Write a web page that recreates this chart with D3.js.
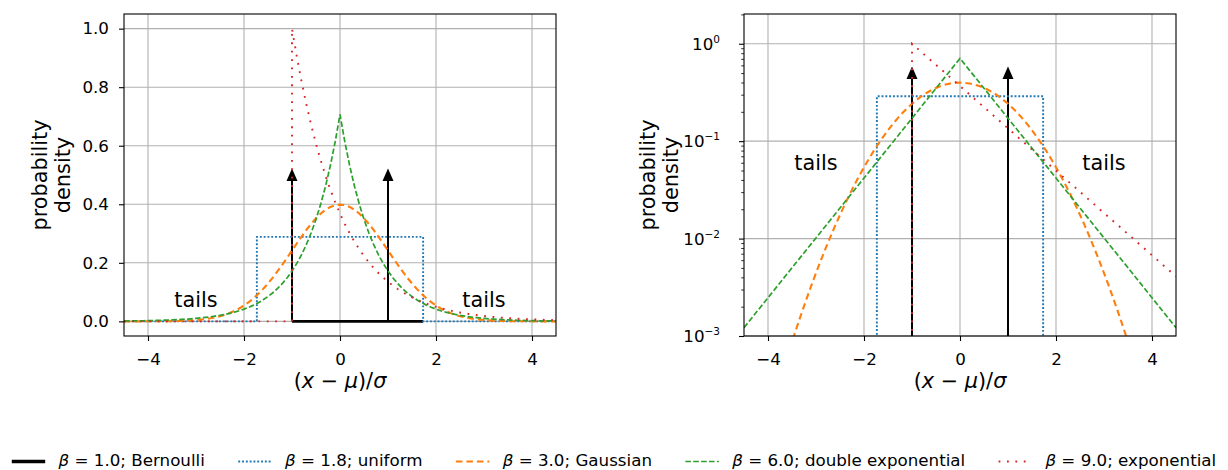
<!DOCTYPE html>
<html>
<head>
<meta charset="utf-8">
<script src="https://cdn.jsdelivr.net/npm/d3@7"></script>
<style>
body { margin: 0; background: #fff; }
text { font-family: "DejaVu Sans", sans-serif; fill: #000; }
</style>
</head>
<body>
<script>

// values //
const xGrid = [-4.5,-4.4,-4.3,-4.2,-4.1,-4.0,-3.9,-3.8,-3.7,-3.6,-3.5,-3.4,-3.3,-3.2,-3.1,
  -3.0,-2.9,-2.8,-2.7,-2.6,-2.5,-2.4,-2.3,-2.2,-2.1,-2.0,-1.9,-1.8,-1.7,-1.6,-1.5,-1.4,-1.3,
  -1.2,-1.1,-1.0,-0.9,-0.8,-0.7,-0.6,-0.5,-0.4,-0.3,-0.2,-0.1,0,0.1,0.2,0.3,0.4,0.5,0.6,0.7,
  0.8,0.9,1.0,1.1,1.2,1.3,1.4,1.5,1.6,1.7,1.8,1.9,2.0,2.1,2.2,2.3,2.4,2.5,2.6,2.7,2.8,2.9,
  3.0,3.1,3.2,3.3,3.4,3.5,3.6,3.7,3.8,3.9,4.0,4.1,4.2,4.3,4.4,4.5];

const gaussY = [0.000016,0.0000249,0.0000385,0.0000589,0.0000893,0.000134,0.000199,0.000292,
  0.000425,0.000612,0.000873,0.00123,0.00172,0.00238,0.00327,0.00443,0.00595,0.00792,0.0104,
  0.0136,0.0175,0.0224,0.0283,0.0355,0.0440,0.0540,0.0656,0.0790,0.0940,0.1109,0.1295,0.1497,
  0.1714,0.1942,0.2179,0.2420,0.2661,0.2897,0.3123,0.3332,0.3521,0.3683,0.3814,0.3910,0.3970,
  0.3989,
  0.3970,0.3910,0.3814,0.3683,0.3521,0.3332,0.3123,0.2897,0.2661,0.2420,0.2179,0.1942,0.1714,
  0.1497,0.1295,0.1109,0.0940,0.0790,0.0656,0.0540,0.0440,0.0355,0.0283,0.0224,0.0175,0.0136,
  0.0104,0.00792,0.00595,0.00443,0.00327,0.00238,0.00172,0.00123,0.000873,0.000612,0.000425,
  0.000292,0.000199,0.000134,0.0000893,0.0000589,0.0000385,0.0000249,0.000016];

const laplaceY = [0.001218,0.001403,0.001616,0.001861,0.002144,0.002470,0.002846,0.003278,
  0.003776,0.004349,0.005010,0.005771,0.006648,0.007658,0.008821,0.01016,0.01170,0.01348,
  0.01553,0.01789,0.02061,0.02374,0.02734,0.03150,0.03628,0.04179,0.04814,0.05546,0.06388,
  0.07358,0.08476,0.09764,0.11247,0.12956,0.14924,0.17191,0.19803,0.22811,0.26276,0.30267,
  0.34865,0.40161,0.46262,0.53290,0.61385,
  0.70711,
  0.61385,0.53290,0.46262,0.40161,0.34865,0.30267,0.26276,0.22811,0.19803,0.17191,0.14924,
  0.12956,0.11247,0.09764,0.08476,0.07358,0.06388,0.05546,0.04814,0.04179,0.03628,0.03150,
  0.02734,0.02374,0.02061,0.01789,0.01553,0.01348,0.01170,0.01016,0.008821,0.007658,0.006648,
  0.005771,0.005010,0.004349,0.003776,0.003278,0.002846,0.002470,0.002144,0.001861,0.001616,
  0.001403,0.001218];

const expX = [-4.5,-1.0,-1.0,-0.9,-0.8,-0.7,-0.6,-0.5,-0.4,-0.3,-0.2,-0.1,0,0.1,0.2,0.3,0.4,
  0.5,0.6,0.7,0.8,0.9,1.0,1.1,1.2,1.3,1.4,1.5,1.6,1.7,1.8,1.9,2.0,2.1,2.2,2.3,2.4,2.5,2.6,2.7,
  2.8,2.9,3.0,3.1,3.2,3.3,3.4,3.5,3.6,3.7,3.8,3.9,4.0,4.1,4.2,4.3,4.4,4.5];
const expY = [0,0,1.0,0.9048,0.8187,0.7408,0.6703,0.6065,0.5488,0.4966,0.4493,0.4066,0.3679,
  0.3329,0.3012,0.2725,0.2466,0.2231,0.2019,0.1827,0.1653,0.1496,0.1353,0.1225,0.1108,0.1003,
  0.0907,0.0821,0.0743,0.0672,0.0608,0.0550,0.0498,0.0450,0.0408,0.0369,0.0334,0.0302,0.0273,
  0.0247,0.0224,0.0202,0.0183,0.0166,0.0150,0.0136,0.0123,0.0111,0.0101,0.00910,0.00823,
  0.00745,0.00674,0.00610,0.00552,0.00499,0.00452,0.00409];

const uniX = [-4.5,-1.732,-1.732,1.732,1.732,4.5];
const uniY = [0,0,0.2887,0.2887,0,0];

const bernX = [-1, 1];          // arrow positions
const bernH = [0.5, 0.5];       // arrow heights
const bernBaseX = [-1, 1.732];  // black line along zero
const bernBaseY = [0, 0];

const xTicks = [-4, -2, 0, 2, 4];
const linTicks = [0, 0.2, 0.4, 0.6, 0.8, 1.0];
const logTicks = [1e-3, 1e-2, 1e-1, 1];
const logTickExp = ["\u22123", "\u22122", "\u22121", "0"];
const logMinor = [2e-3,3e-3,4e-3,5e-3,6e-3,7e-3,8e-3,9e-3,2e-2,3e-2,4e-2,5e-2,6e-2,7e-2,8e-2,9e-2,
  2e-1,3e-1,4e-1,5e-1,6e-1,7e-1,8e-1,9e-1,2];
const tailsX = [-3, 3];
const tailsY = 0.05;

const betas = ["1.0", "1.8", "3.0", "6.0", "9.0"];
const names = ["Bernoulli", "uniform", "Gaussian", "double exponential", "exponential"];
const colors = ["#000000", "#1f77b4", "#ff7f0e", "#2ca02c", "#d62728"];
const dashes = [null, "1.9,1.9", "6.5,4", "5.5,2.4", "1.8,6.6"];
const widths = [2.8, 1.9, 2.1, 1.7, 1.9];


// svg //
const W = 1228, H = 470;
const svg = d3.select('body')
  .append('svg')
  .attr('width', W)
  .attr('height', H);

const pTop = 14, pBottom = 336, pw = 432;


function drawPanel(left, isLog, id, labelX) {

  const x = d3.scaleLinear().domain([-4.5, 4.5]).range([left, left + pw]);
  const y = isLog
    ? d3.scaleLog().domain([1e-3, 2.02]).range([pBottom, pTop])
    : d3.scaleLinear().domain([-0.05, 1.05]).range([pBottom, pTop]);
  const yv = v => isLog ? y(Math.max(v, 1e-12)) : y(v);

  svg.append('clipPath').attr('id', id)
    .append('rect')
    .attr('x', left).attr('y', pTop)
    .attr('width', pw).attr('height', pBottom - pTop);

  const g = svg.append('g');
  const yTicks = isLog ? logTicks : linTicks;

  // grid
  g.selectAll('.gx').data(xTicks).join('line')
    .attr('x1', d => x(d)).attr('x2', d => x(d))
    .attr('y1', pTop).attr('y2', pBottom)
    .attr('stroke', '#b0b0b0').attr('stroke-width', 1.1);
  g.selectAll('.gy').data(yTicks).join('line')
    .attr('x1', left).attr('x2', left + pw)
    .attr('y1', d => y(d)).attr('y2', d => y(d))
    .attr('stroke', '#b0b0b0').attr('stroke-width', 1.1);

  const plot = g.append('g').attr('clip-path', 'url(#' + id + ')');

  const path = (xs, ys) => d3.line()
    .x((d, i) => x(xs[i]))
    .y((d, i) => yv(ys[i]))(xs);

  const addLine = (xs, ys, k) => {
    const p = plot.append('path')
      .attr('d', path(xs, ys))
      .attr('fill', 'none')
      .attr('stroke', colors[k])
      .attr('stroke-width', widths[k]);
    if (dashes[k]) p.attr('stroke-dasharray', dashes[k]);
  };

  // Bernoulli: zero line + arrows
  addLine(bernBaseX, bernBaseY, 0);
  bernX.forEach((bx, i) => {
    const cy = yv(bernH[i]);
    plot.append('line')
      .attr('x1', x(bx)).attr('x2', x(bx))
      .attr('y1', yv(0)).attr('y2', cy + 5)
      .attr('stroke', '#000').attr('stroke-width', 2);
    plot.append('path')
      .attr('d', 'M' + (x(bx) - 5.5) + ',' + (cy + 6) + 'L' + (x(bx) + 5.5) + ',' + (cy + 6) +
        'L' + x(bx) + ',' + (cy - 6.5) + 'Z')
      .attr('fill', '#000');
  });

  addLine(uniX, uniY, 1);
  addLine(xGrid, gaussY, 2);
  addLine(xGrid, laplaceY, 3);
  addLine(expX, expY, 4);

  // tails
  tailsX.forEach(tx => {
    g.append('text')
      .attr('x', x(tx)).attr('y', yv(tailsY))
      .attr('text-anchor', 'middle')
      .style('font-size', '20.8px')
      .text('tails');
  });

  // spines
  g.append('rect')
    .attr('x', left).attr('y', pTop)
    .attr('width', pw).attr('height', pBottom - pTop)
    .attr('fill', 'none').attr('stroke', '#000').attr('stroke-width', 1.1);

  // x axis
  const ax = g.append('g')
    .attr('transform', 'translate(0,' + pBottom + ')')
    .call(d3.axisBottom(x).tickValues(xTicks).tickSize(5).tickPadding(12).tickFormat(d3.format('d')));
  ax.select('.domain').remove();
  ax.selectAll('line').attr('stroke-width', 1.1);
  ax.selectAll('text').style('font-size', '16.7px');

  // y axis
  if (!isLog) {
    const ay = g.append('g')
      .attr('transform', 'translate(' + left + ',0)')
      .call(d3.axisLeft(y).tickValues(yTicks).tickSize(5).tickPadding(10).tickFormat(d3.format('.1f')));
    ay.select('.domain').remove();
    ay.selectAll('line').attr('stroke-width', 1.1);
    ay.selectAll('text').style('font-size', '16.7px');
  } else {
    const ay = g.append('g')
      .attr('transform', 'translate(' + left + ',0)')
      .call(d3.axisLeft(y).tickValues(yTicks).tickSize(5).tickFormat(''));
    ay.select('.domain').remove();
    ay.selectAll('line').attr('stroke-width', 1.1);
    const am = g.append('g')
      .attr('transform', 'translate(' + left + ',0)')
      .call(d3.axisLeft(y).tickValues(logMinor).tickSize(2.8).tickFormat(''));
    am.select('.domain').remove();
    am.selectAll('line').attr('stroke-width', 0.8);
    yTicks.forEach((v, i) => {
      const t = g.append('text')
        .attr('x', left - 24).attr('y', y(v) + 6)
        .attr('text-anchor', 'end')
        .style('font-size', '16.7px');
      t.append('tspan').text('10');
      t.append('tspan').attr('dy', -7).style('font-size', '10.5px').text(logTickExp[i]);
    });
  }

  // x label
  const xl = g.append('text')
    .attr('x', left + pw / 2).attr('y', 388)
    .attr('text-anchor', 'middle')
    .style('font-size', '20.8px');
  xl.append('tspan').text('(');
  xl.append('tspan').style('font-style', 'italic').text('x');
  xl.append('tspan').text(' \u2212 ');
  xl.append('tspan').style('font-style', 'italic').text('\u03bc');
  xl.append('tspan').text(')/');
  xl.append('tspan').style('font-style', 'italic').text('\u03c3');

  // y label
  const yl = g.append('text')
    .attr('transform', 'translate(' + labelX + ',175) rotate(-90)')
    .attr('text-anchor', 'middle')
    .style('font-size', '20.8px');
  yl.append('tspan').attr('x', 0).attr('y', 0).text('probability');
  yl.append('tspan').attr('x', 0).attr('y', 23).text('density');
}

drawPanel(124, false, 'clipL', 47);
drawPanel(744, true, 'clipR', 655);


// legend //
const legend = svg.append('g');
const items = [];
names.forEach((nm, i) => {
  const it = legend.append('g');
  const l = it.append('line')
    .attr('x1', 0).attr('x2', 33.4)
    .attr('y1', 0).attr('y2', 0)
    .attr('stroke', colors[i])
    .attr('stroke-width', i === 0 ? 3.4 : widths[i]);
  if (dashes[i]) l.attr('stroke-dasharray', dashes[i]);
  const t = it.append('text')
    .attr('x', 46.8).attr('y', 4.8)
    .style('font-size', '16.7px');
  t.append('tspan').style('font-style', 'italic').text('\u03b2');
  t.append('tspan').text(' = ' + betas[i] + '; ' + nm);
  items.push({ g: it, w: 46.8 + t.node().getComputedTextLength() });
});
const colGap = 33.4;
const total = d3.sum(items, d => d.w) + colGap * (items.length - 1);
let cx = (W - total) / 2;
items.forEach(d => {
  d.g.attr('transform', 'translate(' + cx + ',461.5)');
  cx += d.w + colGap;
});

</script>
</body>
</html>
